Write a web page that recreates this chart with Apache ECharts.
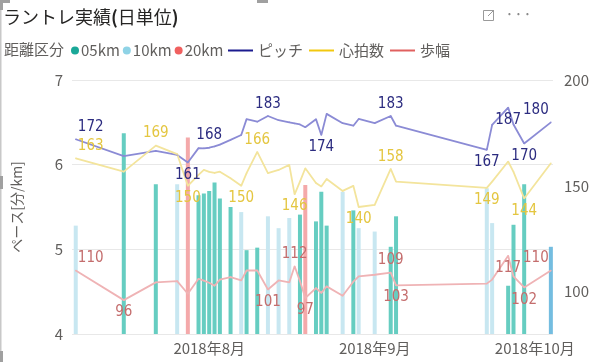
<!DOCTYPE html>
<html><head><meta charset="utf-8">
<script src="https://cdn.jsdelivr.net/npm/echarts@6/dist/echarts.min.js"></script>
<style>html,body{margin:0;padding:0;background:#fff}#c{width:600px;height:362px}</style>
</head><body><div id="c"></div>
<script>
// ---- data ----
const dates = ['2018-07-07','2018-07-16','2018-07-22','2018-07-26','2018-07-28','2018-07-30','2018-07-31','2018-08-01','2018-08-02','2018-08-03','2018-08-05','2018-08-07','2018-08-08','2018-08-10','2018-08-12','2018-08-14','2018-08-16','2018-08-17','2018-08-18','2018-08-19','2018-08-21','2018-08-22','2018-08-23','2018-08-26','2018-08-28','2018-08-29','2018-09-01','2018-09-04','2018-09-05','2018-09-22','2018-09-23','2018-09-26','2018-09-27','2018-09-29','2018-10-04'];
const distance = ['10km','05km','05km','10km','20km','05km','05km','05km','05km','05km','05km','10km','05km','05km','10km','10km','10km','','05km','20km','05km','05km','05km','10km','05km','10km','10km','05km','05km','10km','10km','05km','05km','05km','10km'];
const pace = [5.28,6.37,5.77,5.77,6.32,5.64,5.66,5.69,5.79,5.60,5.50,5.44,4.99,5.02,5.39,5.25,5.37,null,5.41,5.76,5.33,5.68,5.28,5.68,5.46,5.25,5.21,5.03,5.39,5.72,5.31,4.57,5.29,5.77,5.03];
const pitch = [172,164,166.5,164.6,161,167.8,167.7,168,168.6,169.5,171.7,174,181.5,180.3,183,181,180,179.5,179,177.7,181.5,174,184,179.6,178.4,181.6,179.6,183,178.4,167,178.8,187,179,170,180];
const heartRate = [163,156.7,169,165,150,155.2,157.5,156.6,156.1,156.7,153.6,150,156,166,156,157.5,159.9,146,152,158.3,151.3,149.7,153.2,147.6,150,140,141,158,152,149,152,161.5,156.6,144,160.7];
const stride = [110,96,104.4,105,99,106.1,105.2,104.2,102.8,105.7,106.9,105.3,110,110,101,105.3,104.4,112,105,97,101.7,99.4,102.5,98.1,104.7,107.2,108,109,103,103.8,105.7,117,107.2,102,110];
const categories = ['05km','10km','20km'];
const lineNames = ['ピッチ','心拍数','歩幅'];
const monthTicks = ['2018-08-01','2018-09-01','2018-10-01'];
const monthLabels = ['2018年8月','2018年9月','2018年10月'];
const rightTickLabels = [100,150,200];
const selectedDate = '2018-10-04';
const pitchLabelDates = ['2018-07-07','2018-07-28','2018-08-01','2018-08-12','2018-08-22','2018-09-04','2018-09-22','2018-09-26','2018-09-29','2018-10-04'];
const heartLabelDates = ['2018-07-07','2018-07-22','2018-07-28','2018-08-07','2018-08-10','2018-08-17','2018-08-29','2018-09-04','2018-09-22','2018-09-29'];
const strideLabelDates = ['2018-07-07','2018-07-16','2018-08-12','2018-08-17','2018-08-19','2018-09-04','2018-09-05','2018-09-26','2018-09-29','2018-10-04'];

// ---- styling ----
const DAY = 86400000;
const ts = d => { const p = d.split('-').map(Number); return Date.UTC(p[0], p[1]-1, p[2]); };
const aug1 = ts('2018-08-01');
const FONT = "'Noto Sans CJK JP','Noto Sans',sans-serif";
const NUMFONT = "'Liberation Sans Narrow','DejaVu Sans Condensed','Roboto',sans-serif";
const barColors = {'05km':'#66cdc1','10km':'#c8e7f1','20km':'#f4a9aa'};
const legendColors = {'05km':'#1aa898','10km':'#8fd3e6','20km':'#f0605f'};
const lineCfg = [
  {name:lineNames[0], vals:pitch, color:'#8b8bd5', legend:'#1b1b8f', label:'#2c2c80', labelDates:pitchLabelDates,
   below:['2018-07-28','2018-08-22','2018-09-22','2018-09-26','2018-09-29']},
  {name:lineNames[1], vals:heartRate, color:'#f3e49c', legend:'#f2c80f', label:'#e4c640', labelDates:heartLabelDates,
   below:['2018-07-28','2018-08-07','2018-08-17','2018-08-29','2018-09-22','2018-09-29']},
  {name:lineNames[2], vals:stride, color:'#efb3b5', legend:'#e0605f', label:'#c46d6d', labelDates:strideLabelDates,
   below:['2018-07-16','2018-08-12','2018-08-19','2018-09-05','2018-09-26','2018-09-29']}
];

const series = [];
categories.forEach(cat => {
  const data = [];
  dates.forEach((d,i) => {
    if (distance[i] === cat && pace[i] != null) {
      const item = {value:[ts(d), pace[i]]};
      if (d === selectedDate) item.itemStyle = {color:'#74bde0'};
      data.push(item);
    }
  });
  series.push({type:'bar', name:cat, yAxisIndex:0, barWidth:4, barGap:'-100%',
    itemStyle:{color:barColors[cat]}, data, z:2});
});
lineCfg.forEach(cfg => {
  const data = dates.map((d,i) => {
    const item = {value:[ts(d), cfg.vals[i]]};
    if (cfg.labelDates.includes(d)) {
      let dx = 0;
      if (i === 0) dx = 15;
      if (i === dates.length-1) dx = -15;
      item.label = {show:true, position: cfg.below.includes(d) ? 'bottom' : 'top', offset:[dx,0]};
    }
    return item;
  });
  series.push({type:'line', name:cfg.name, yAxisIndex:1, symbol:'circle', symbolSize:1.5, showSymbol:true, showAllSymbol:true,
    itemStyle:{color:cfg.color}, lineStyle:{color:cfg.color, width:1.8}, z:3,
    label:{show:false, color:cfg.label, fontFamily:NUMFONT, fontSize:15, distance:4,
      formatter: p => Math.round(p.value[1])},
    data});
});

const chart = echarts.init(document.getElementById('c'));
chart.setOption({
  animation:false,
  title:{text:'{a|ラントレ実績}{b|(}{a|日単位}{b|)}', left:3, top:8, padding:0,
    textStyle:{rich:{a:{fontFamily:FONT, fontSize:18, fontWeight:'normal', color:'#252423'}, b:{fontFamily:FONT, fontSize:18, fontWeight:'bold', color:'#252423'}}}},
  legend:[
    {data:categories.map(c=>({name:c, itemStyle:{color:legendColors[c]}})), icon:'circle', itemWidth:8, itemHeight:8, itemGap:3,
     left:71, top:43, padding:0, textStyle:{fontFamily:FONT, fontSize:15, color:'#605e5c', padding:[0,0,0,-3]}},
    {data:lineCfg.map(c=>({name:c.name, itemStyle:{color:c.legend}})), icon:'rect', itemWidth:25, itemHeight:2, itemGap:6,
     left:228, top:43, padding:0, textStyle:{fontFamily:FONT, fontSize:15, color:'#605e5c'}}
  ],
  grid:{left:72, right:47, top:80, bottom:28},
  xAxis:{type:'value', min:aug1 - 25.7*DAY, max:aug1 + 64.4*DAY,
    axisLine:{show:false}, axisTick:{show:false}, splitLine:{show:false},
    axisLabel:{customValues:monthTicks.map(ts), margin:7, fontFamily:FONT, fontSize:15, color:'#605e5c',
      formatter: v => monthLabels[monthTicks.map(ts).indexOf(v)] || ''}},
  yAxis:[
    {type:'value', min:4, max:7, interval:1, name:'ペース[分/km]', nameLocation:'middle', nameGap:48,
     nameTextStyle:{fontFamily:FONT, fontSize:14, color:'#605e5c'},
     axisLine:{show:false}, axisTick:{show:false},
     axisLabel:{margin:9, fontFamily:FONT, fontSize:15, color:'#605e5c'},
     splitLine:{lineStyle:{color:'#e8e8e8', width:1}}},
    {type:'value', min:80, max:200, interval:10, position:'right',
     axisLine:{show:false}, axisTick:{show:false}, splitLine:{show:false},
     axisLabel:{margin:11, fontFamily:FONT, fontSize:15, color:'#605e5c',
       formatter: v => rightTickLabels.includes(v) ? String(v) : ''}}
  ],
  graphic:[
    {type:'rect', shape:{x:0, y:0, width:1.5, height:362}, style:{fill:'#c8c8c8'}},
    {type:'rect', shape:{x:0, y:0, width:10, height:3}, style:{fill:'#a0a0a0'}},
    {type:'rect', shape:{x:0, y:0, width:3, height:10}, style:{fill:'#a0a0a0'}},
    {type:'rect', shape:{x:257, y:0, width:11, height:3}, style:{fill:'#a0a0a0'}},
    {type:'rect', shape:{x:0, y:176, width:3, height:13}, style:{fill:'#a0a0a0'}},
    {type:'rect', shape:{x:0, y:351, width:3, height:11}, style:{fill:'#a0a0a0'}},
    {type:'rect', shape:{x:483.5, y:10.5, width:10, height:10}, style:{fill:'none', stroke:'#9a9a9a', lineWidth:1}},
    {type:'line', shape:{x1:488, y1:16, x2:494, y2:10}, style:{stroke:'#9a9a9a', lineWidth:1}},
    {type:'text', left:505, top:6, style:{text:'···', fontSize:16, fill:'#8a8a8a', fontFamily:FONT}},
    {type:'text', left:4, top:42, style:{text:'距離区分', fontSize:15, fill:'#605e5c', fontFamily:FONT}}
  ],
  series
});
</script>
</body></html>
